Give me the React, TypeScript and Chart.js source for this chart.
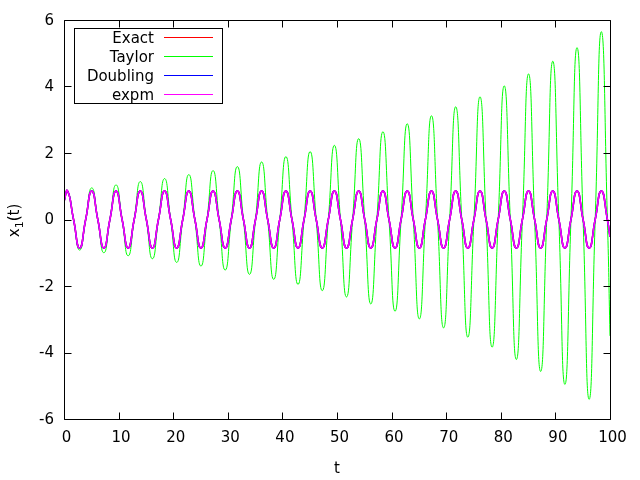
import { useEffect, useRef } from "react";
import { Chart, registerables } from "chart.js";

Chart.register(...registerables);

// Sample times: start, then peak / zero / trough / zero of each cycle
const tSamples = [
  0,
  0.64, 1.75, 2.86, 3.97,
  5.08, 6.19, 7.3, 8.41,
  9.53, 10.64, 11.75, 12.86,
  13.97, 15.08, 16.19, 17.3,
  18.42, 19.53, 20.64, 21.75,
  22.86, 23.97, 25.08, 26.19,
  27.3, 28.41, 29.52, 30.64,
  31.75, 32.86, 33.97, 35.08,
  36.19, 37.3, 38.41, 39.52,
  40.64, 41.75, 42.86, 43.97,
  45.08, 46.19, 47.3, 48.41,
  49.52, 50.63, 51.74, 52.86,
  53.97, 55.08, 56.19, 57.3,
  58.41, 59.52, 60.63, 61.74,
  62.86, 63.97, 65.08, 66.19,
  67.3, 68.41, 69.52, 70.63,
  71.74, 72.85, 73.96, 75.08,
  76.19, 77.3, 78.41, 79.52,
  80.63, 81.74, 82.85, 83.96,
  85.08, 86.19, 87.3, 88.41,
  89.52, 90.63, 91.74, 92.85,
  93.96, 95.07, 96.18, 97.29,
  98.41, 99.52, 100,
];

const exactX1 = [
  0.53,
  0.86, 0, -0.86, 0,
  0.86, 0, -0.86, 0,
  0.86, 0, -0.86, 0,
  0.86, 0, -0.86, 0,
  0.86, 0, -0.86, 0,
  0.86, 0, -0.86, 0,
  0.86, 0, -0.86, 0,
  0.86, 0, -0.86, 0,
  0.86, 0, -0.86, 0,
  0.86, 0, -0.86, 0,
  0.86, 0, -0.86, 0,
  0.86, 0, -0.86, 0,
  0.86, 0, -0.86, 0,
  0.86, 0, -0.86, 0,
  0.86, 0, -0.86, 0,
  0.86, 0, -0.86, 0,
  0.86, 0, -0.86, 0,
  0.86, 0, -0.86, 0,
  0.86, 0, -0.86, 0,
  0.86, 0, -0.86, 0,
  0.86, 0, -0.86, 0,
  0.86, 0, -0.86, 0,
  0.86, 0, -0.52,
];

const taylorX1 = [
  0.53,
  0.87, 0, -0.92, 0,
  0.95, 0, -1.0, 0,
  1.04, 0, -1.09, 0,
  1.14, 0, -1.18, 0,
  1.23, 0, -1.29, 0,
  1.35, 0, -1.4, 0,
  1.47, 0, -1.52, 0,
  1.59, 0, -1.65, 0,
  1.73, 0, -1.8, 0,
  1.89, 0, -1.95, 0,
  2.04, 0, -2.14, 0,
  2.23, 0, -2.33, 0,
  2.43, 0, -2.54, 0,
  2.64, 0, -2.76, 0,
  2.88, 0, -2.99, 0,
  3.12, 0, -3.26, 0,
  3.39, 0, -3.54, 0,
  3.69, 0, -3.84, 0,
  4.02, 0, -4.21, 0,
  4.38, 0, -4.57, 0,
  4.76, 0, -4.96, 0,
  5.17, 0, -5.41, 0,
  5.65, 0, -3.5,
];

// Doubling and expm coincide with the exact solution in the picture
const doublingX1 = [...exactX1];
const expmX1 = [...exactX1];

const seriesLabels = ["Exact", "Taylor", "Doubling", "expm"];
const xTickValues = [0, 10, 20, 30, 40, 50, 60, 70, 80, 90, 100];
const yTickValues = [-6, -4, -2, 0, 2, 4, 6];

const FONT = '"DejaVu Sans", "Liberation Sans", sans-serif';

const toPoints = (ys: number[]) => tSamples.map((t, i) => ({ x: t, y: ys[i] }));

const gnuplotDecor = {
  id: "gnuplotDecor",
  afterDatasetsDraw(chart: any) {
    const { ctx, chartArea: a, scales } = chart;
    const xs = scales.x;
    const ys = scales.y;
    ctx.save();
    ctx.strokeStyle = "#000";
    ctx.lineWidth = 1;
    const L = Math.round(a.left) + 0.5;
    const R = Math.round(a.right) + 0.5;
    const T = Math.round(a.top) + 0.5;
    const B = Math.round(a.bottom) + 0.5;
    const tl = 7;
    ctx.beginPath();
    xTickValues.forEach((v) => {
      const px = Math.round(xs.getPixelForValue(v)) + 0.5;
      ctx.moveTo(px, B);
      ctx.lineTo(px, B - tl);
      ctx.moveTo(px, T);
      ctx.lineTo(px, T + tl);
    });
    yTickValues.forEach((v) => {
      const py = Math.round(ys.getPixelForValue(v)) + 0.5;
      ctx.moveTo(L, py);
      ctx.lineTo(L + tl, py);
      ctx.moveTo(R, py);
      ctx.lineTo(R - tl, py);
    });
    ctx.stroke();
    ctx.beginPath();
    ctx.rect(L, T, R - L, B - T);
    ctx.stroke();

    // key box (gnuplot style: text right-aligned, sample line on the right)
    ctx.fillStyle = "#fff";
    ctx.fillRect(75, 29, 147, 74);
    ctx.strokeRect(74.5, 28.5, 148, 75);
    const rows = [37, 56, 75, 94];
    ctx.font = `15px ${FONT}`;
    ctx.textAlign = "right";
    ctx.textBaseline = "alphabetic";
    chart.data.datasets.forEach((ds: any, i: number) => {
      ctx.fillStyle = "#000";
      ctx.fillText(ds.label, 154, rows[i] + 5.5);
      ctx.strokeStyle = ds.borderColor;
      ctx.lineWidth = 1;
      ctx.beginPath();
      ctx.moveTo(164, rows[i] + 0.5);
      ctx.lineTo(213, rows[i] + 0.5);
      ctx.stroke();
    });

    // axis titles
    ctx.fillStyle = "#000";
    ctx.textAlign = "center";
    ctx.font = `15px ${FONT}`;
    ctx.fillText("t", (a.left + a.right) / 2, 473);

    ctx.translate(18.5, (a.top + a.bottom) / 2 + 1);
    ctx.rotate(-Math.PI / 2);
    ctx.textAlign = "left";
    const main = `15px ${FONT}`;
    const sub = `11px ${FONT}`;
    ctx.font = main;
    const w1 = ctx.measureText("x").width;
    const w3 = ctx.measureText("(t)").width;
    ctx.font = sub;
    const w2 = ctx.measureText("1").width;
    const x0 = -(w1 + w2 + w3) / 2;
    ctx.font = main;
    ctx.fillText("x", x0, 0);
    ctx.font = sub;
    ctx.fillText("1", x0 + w1, 4);
    ctx.font = main;
    ctx.fillText("(t)", x0 + w1 + w2, 0);
    ctx.restore();
  },
};

export default function App() {
  const ref = useRef<HTMLCanvasElement>(null);
  useEffect(() => {
    if (!ref.current) return;
    const common = { pointRadius: 0, borderWidth: 1, tension: 0.55, fill: false };
    const chart = new Chart(ref.current, {
      type: "line",
      data: {
        datasets: [
          { ...common, label: seriesLabels[0], data: toPoints(exactX1), borderColor: "#ff0000", borderWidth: 1.5, order: 4 },
          { ...common, label: seriesLabels[1], data: toPoints(taylorX1), borderColor: "#00ff00", order: 3 },
          { ...common, label: seriesLabels[2], data: toPoints(doublingX1), borderColor: "#0000ff", borderWidth: 1.5, order: 2 },
          { ...common, label: seriesLabels[3], data: toPoints(expmX1), borderColor: "#ff00ff", borderWidth: 1.5, order: 1 },
        ],
      },
      options: {
        responsive: false,
        devicePixelRatio: 1,
        animation: false,
        layout: { padding: { top: 20, right: 30, bottom: 0, left: 0 } },
        plugins: { legend: { display: false }, tooltip: { enabled: false } },
        scales: {
          x: {
            type: "linear",
            min: 0,
            max: 100,
            grid: { display: false, drawTicks: false },
            border: { display: false },
            ticks: {
              font: { family: FONT, size: 15 },
              color: "#000",
              padding: 10,
              labelOffset: 2.5,
              maxRotation: 0,
              autoSkip: false,
            },
            afterBuildTicks: (s: any) => {
              s.ticks = xTickValues.map((v) => ({ value: v }));
            },
            afterFit: (s: any) => {
              s.height = 61;
            },
          },
          y: {
            type: "linear",
            min: -6,
            max: 6,
            grid: { display: false, drawTicks: false },
            border: { display: false },
            ticks: {
              font: { family: FONT, size: 15 },
              color: "#000",
              padding: 10,
              labelOffset: 1,
              autoSkip: false,
            },
            afterBuildTicks: (s: any) => {
              s.ticks = yTickValues.map((v) => ({ value: v }));
            },
            afterFit: (s: any) => {
              s.width = 64;
            },
          },
        },
      } as any,
      plugins: [gnuplotDecor],
    });
    return () => chart.destroy();
  }, []);
  return (
    <div style={{ position: "fixed", left: 0, top: 0, width: 640, height: 480, background: "#fff" }}>
      <canvas ref={ref} width={640} height={480} style={{ display: "block", width: 640, height: 480 }} />
    </div>
  );
}
